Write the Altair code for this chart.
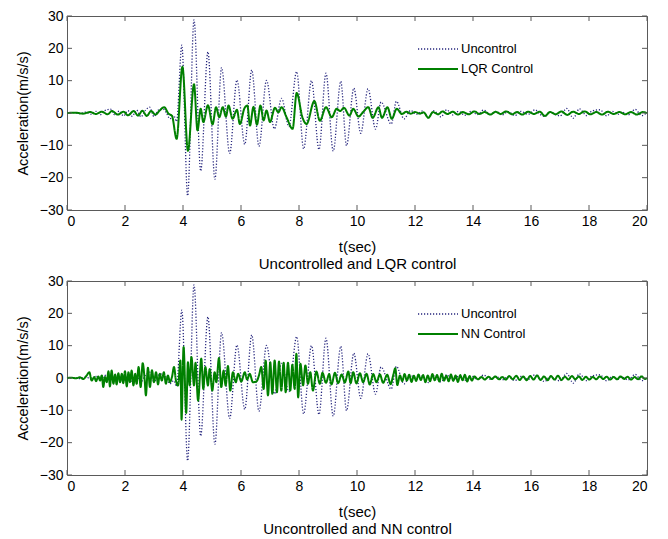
import altair as alt
import pandas as pd

# ---------------- data ----------------
UNC_T = [0.0, 0.25, 0.45, 0.65, 0.85, 1.0, 1.15, 1.3, 1.5, 1.65, 1.8, 1.95, 2.1, 2.25, 2.4, 2.55, 2.7, 2.85,
         3.0, 3.15, 3.3, 3.42, 3.55, 3.68, 3.78, 3.96, 4.16, 4.38, 4.61, 4.86, 5.1, 5.33, 5.61, 5.86, 6.13,
         6.37, 6.62, 6.88, 7.15, 7.4, 7.65, 7.92, 8.16, 8.43, 8.69, 8.93, 9.18, 9.44, 9.64, 9.89, 10.13,
         10.38, 10.64, 10.83, 11.18, 11.36, 11.62, 11.85, 12.05, 12.25, 12.46, 12.65, 12.9, 13.09, 13.3,
         13.5, 13.72, 13.95, 14.15, 14.36, 14.6, 14.8, 15.0, 15.22, 15.45, 15.65, 15.9, 16.14, 16.3, 16.48,
         16.65, 16.85, 17.0, 17.23, 17.46, 17.67, 17.92, 18.1, 18.38, 18.61, 18.8, 19.0, 19.13, 19.35,
         19.59, 19.82, 20.0]
UNC_A = [0.0, 0.1, -0.2, 0.3, -0.4, 0.5, -0.5, 0.7, 1.2, -0.6, 0.6, -0.9, 0.7, -1.0, 0.9, -1.2, 0.8, 1.8,
         -1.1, 0.9, 1.3, 0.2, -1.8, -0.8, -2.6, 21.0, -25.6, 28.8, -17.9, 18.9, -20.5, 14.0, -12.5, 10.2, -9.7,
         13.3, -10.3, 10.1, -4.9, 4.5, -4.2, 12.8, -11.1, 10.0, -11.3, 12.3, -11.8, 9.8, -10.1, 7.7, -6.3,
         7.5, -5.0, 3.4, -3.4, 3.6, -1.8, 0.8, -0.4, 0.6, -1.4, 0.7, -1.2, 1.0, -0.6,
         0.5, -0.7, 0.6, -0.5, 0.9, -0.4, 0.5, -0.6, 0.4, -0.8, 0.5, -0.4, 1.0, -0.3, -1.1,
         0.4, -0.5, -0.9, 1.4, -1.6, 1.3, -0.8, 0.6, 1.0, -0.9, 0.5, -0.4, 0.3, -0.6,
         1.1, -0.8, 0.2]

LQR_T = [0.0, 0.3, 0.55, 0.8, 1.0, 1.2, 1.4, 1.55, 1.75, 1.95, 2.1, 2.3, 2.45, 2.6, 2.75, 2.9, 3.05, 3.2,
         3.35, 3.5, 3.62, 3.78, 3.98, 4.17, 4.38, 4.5, 4.61, 4.7, 4.86, 5.02, 5.14, 5.25, 5.37, 5.48, 5.57,
         5.71, 5.86, 5.96, 6.12, 6.22, 6.31, 6.43, 6.55, 6.67, 6.78, 6.88, 7.0, 7.17, 7.29, 7.4, 7.57, 7.78,
         7.92, 8.12, 8.26, 8.53, 8.72, 8.93, 9.13, 9.3, 9.42, 9.55, 9.74, 9.87, 10.05, 10.22, 10.39, 10.54,
         10.74, 10.86, 11.05, 11.2, 11.37, 11.55, 11.7, 11.85, 12.0, 12.17, 12.3, 12.46, 12.62, 12.8, 12.95,
         13.12, 13.3, 13.48, 13.65, 13.85, 14.05, 14.22, 14.4, 14.6, 14.78, 14.95, 15.15, 15.35, 15.52,
         15.7, 15.9, 16.1, 16.3, 16.48, 16.66, 16.85, 17.05, 17.25, 17.45, 17.65, 17.85, 18.05, 18.25,
         18.45, 18.65, 18.85, 19.05, 19.25, 19.45, 19.65, 19.85, 20.0]
LQR_A = [0.0, 0.1, -0.2, 0.3, -0.3, 0.4, -0.4, 0.6, -0.5, 0.4, -0.7, 0.6, -0.8, 0.7, -0.9, 0.6, -0.5, 0.8,
         1.8, -0.2, -0.9, -8.0, 14.3, -11.7, 8.9, -5.4, 1.3, -2.8, 2.4, -3.5, 1.8, -1.3, 1.8, -1.1, 2.3,
         -1.8, 1.0, -3.4, 1.5, 2.3, -3.9, 1.9, -3.6, 2.3, -2.3, 0.8, -2.8, 1.6, 0.2, 1.8, -1.3, -4.9,
         6.2, -1.4, -3.4, 3.7, -2.4, 1.8, -1.3, 1.3, 0.6, 1.6, -0.8, 1.3, -1.1, 0.4, 1.8, -1.5,
         1.8, -1.5, 1.8, -1.8, 1.3, -0.3, 0.4, -0.2, 0.3, -0.2, 0.2, -1.5, 0.3, -0.4, 0.5,
         -0.3, 0.4, -0.5, 0.3, -0.4, 0.5, -0.3, 0.3, -0.5, 0.4, -0.3, 0.5, -0.4, 0.3,
         -0.5, 0.4, -0.3, 0.4, -0.9, 0.3, -0.4, 0.5, -0.6, 0.4, -0.3, 0.5, -0.4, 0.3,
         -0.5, 0.4, -0.3, 0.3, -0.4, 0.3, -0.5, 0.3, 0.0]

NN_T = [0.0, 0.15, 0.3, 0.45, 0.56, 0.68, 0.77, 0.85, 0.94, 1.0, 1.08, 1.14, 1.2, 1.25, 1.31, 1.37, 1.43,
        1.48, 1.54, 1.6, 1.66, 1.71, 1.77, 1.83, 1.89, 1.94, 2.0, 2.06, 2.12, 2.17, 2.23, 2.29, 2.35, 2.4,
        2.47, 2.54, 2.61, 2.68, 2.72, 2.79, 2.86, 2.93, 3.0, 3.07, 3.14, 3.2, 3.27, 3.34, 3.41, 3.48, 3.55,
        3.62, 3.69, 3.76, 3.83, 3.91, 3.95, 4.02, 4.11, 4.17, 4.23, 4.29, 4.38, 4.43, 4.52, 4.63, 4.7,
        4.77, 4.86, 4.92, 5.01, 5.09, 5.15, 5.24, 5.32, 5.4, 5.47, 5.55, 5.63, 5.72, 5.82, 5.9, 6.01, 6.13,
        6.21, 6.3, 6.41, 6.53, 6.62, 6.7, 6.78, 6.85, 6.93, 7.01, 7.08, 7.16, 7.24, 7.31, 7.39, 7.47, 7.54,
        7.62, 7.7, 7.77, 7.85, 7.91, 7.97, 8.05, 8.14, 8.22, 8.31, 8.39, 8.48, 8.6, 8.72, 8.81, 8.93,
        9.04, 9.12, 9.24, 9.35, 9.47, 9.58, 9.7, 9.78, 9.87, 9.98, 10.1, 10.21, 10.33, 10.44, 10.56, 10.67,
        10.79, 10.9, 11.04, 11.16, 11.25, 11.32, 11.39, 11.48, 11.56, 11.64, 11.72, 11.8, 11.88, 11.96,
        12.04, 12.12, 12.2, 12.28, 12.36, 12.44, 12.52, 12.6, 12.68, 12.76, 12.84, 12.92, 13.0, 13.08,
        13.16, 13.24, 13.32, 13.4, 13.48, 13.56, 13.64, 13.72, 13.8, 13.88, 13.96, 14.05, 14.17, 14.29,
        14.41, 14.53, 14.65, 14.77, 14.89, 15.01, 15.13, 15.25, 15.37, 15.49, 15.61, 15.73, 15.85, 15.97,
        16.09, 16.21, 16.33, 16.45, 16.57, 16.69, 16.81, 16.93, 17.05, 17.17, 17.29, 17.41, 17.53, 17.65,
        17.77, 17.89, 18.01, 18.13, 18.25, 18.37, 18.49, 18.61, 18.73, 18.85, 18.97, 19.09, 19.21, 19.33,
        19.45, 19.57, 19.69, 19.81, 19.93, 20.0]
NN_A = [0.0, 0.1, -0.1, 0.2, -0.3, 0.8, 1.8, -0.8, 0.3, -1.0, 0.5, -0.8, 0.8, -2.8, 0.3, -1.3, 2.1,
        -2.6, 2.3, -1.8, 1.1, -2.0, 1.5, -1.3, 1.3, -1.6, 2.1, -2.6, 1.8, -1.3, 2.3, -2.3, 1.3, -1.8,
        3.4, -2.8, 4.6, -0.8, -5.4, 3.2, -2.8, 2.4, -1.3, 1.8, -2.0, 1.3, -0.8, 1.8, -1.8, 0.8, -1.3,
        0.3, 3.4, -1.0, -2.3, 5.4, -12.9, 9.6, -10.8, 4.9, -2.3, 6.5, -2.3, 4.7, -7.0, 6.0, -3.4,
        3.4, -2.3, 2.8, -3.9, 1.8, -1.3, 6.2, -2.8, 2.3, -2.3, 3.7, -3.9, 1.8, -1.3, 1.3, -1.1, 1.8,
        -0.5, 1.3, -1.3, -1.1, 0.8, 3.4, -3.4, 5.4, -5.4, 4.9, -4.9, 5.4, -4.4, 5.1, -3.9, 4.7, -4.4,
        4.7, -3.9, 4.1, -3.4, 7.5, -6.0, 4.4, -2.3, 3.9, -1.8, 1.8, -3.9, 2.0, -1.8, 1.6, -1.5,
        1.2, -2.0, 1.6, -1.6, 1.1, -1.4, 2.0, -1.6, 1.8, -1.7, 1.5, -1.3, 1.3, -2.0, 1.2, -1.3,
        1.1, -1.5, 1.0, -1.9, 0.9, 3.0, -2.2, 0.8, -1.0, 1.2, -0.8, 1.0, -1.2, 0.7,
        -0.9, 1.1, -0.6, 0.9, -1.3, 0.8, -1.0, 1.2, -0.7, 0.9, -1.1, 1.3, -0.8, 0.7,
        -1.0, 1.1, -0.9, 0.8, -1.2, 0.9, -0.7, 1.0, -1.1, 0.6, -0.8, 0.5, -0.4, 0.3,
        -0.5, 0.4, -0.3, 0.5, -0.4, 0.3, -0.5, 0.6, -0.4, 0.7, -0.6, 0.5, -0.7, 0.6,
        -0.5, 0.8, -0.6, 0.5, -0.7, 0.6, -0.5, 0.7, -0.6, 0.4, -0.5, 0.6, -0.4, 0.5,
        -0.6, 0.4, -0.5, 0.3, -0.4, 0.5, -0.3, 0.4, -0.5, 0.3, -0.4, 0.5, -0.3, 0.4,
        -0.5, 0.3, -0.4, 0.5, -0.3, 0.0]

X_TICKS = [0, 2, 4, 6, 8, 10, 12, 14, 16, 18, 20]
Y_TICKS = [-30, -20, -10, 0, 10, 20, 30]

# ---------------- style ----------------
W, H = 580, 194
FONT = "Liberation Sans"
FRAME = "#5a5a5a"
UNC_COLOR = "#26267e"
CTRL_COLOR = "#008000"
TICK_LEN = 5


def panel(ctrl_t, ctrl_a, ctrl_name, subtitle):
    domain = ["Uncontrol", ctrl_name]
    unc = pd.DataFrame({"t": UNC_T, "a": UNC_A, "series": "Uncontrol"})
    ctl = pd.DataFrame({"t": ctrl_t, "a": ctrl_a, "series": ctrl_name})
    xt = pd.DataFrame({"t": X_TICKS})
    yt = pd.DataFrame({"a": Y_TICKS})

    x_enc = alt.X("t:Q", scale=alt.Scale(domain=[0, 20], nice=False, zero=False),
                  axis=alt.Axis(values=X_TICKS, format="d", title=["t(sec)", subtitle],
                                ticks=False, domain=False, grid=False, labelOverlap=False,
                                labelPadding=4, titlePadding=11, titleLineHeight=17,
                                titleFontSize=15))
    y_enc = alt.Y("a:Q", scale=alt.Scale(domain=[-30, 30], nice=False, zero=False),
                  axis=alt.Axis(values=Y_TICKS, format="d", title="Acceleration(m/s/s)",
                                ticks=False, domain=False, grid=False, labelOverlap=False,
                                labelFlush=False, labelPadding=4, titlePadding=9,
                                titleFontSize=14.5))
    leg = alt.Legend(title=None, orient="none", legendX=360, legendY=22,
                     symbolType="M-2,0H2", symbolSize=400, labelFontSize=13,
                     labelFont=FONT, labelOffset=12, rowPadding=2, padding=0)
    color = alt.Color("series:N", scale=alt.Scale(domain=domain, range=[UNC_COLOR, CTRL_COLOR]), legend=leg)
    dash = alt.StrokeDash("series:N", scale=alt.Scale(domain=domain, range=[[1.2, 1.8], [1, 0]]), legend=leg)
    sw = alt.StrokeWidth("series:N", scale=alt.Scale(domain=domain, range=[1.3, 2.0]), legend=leg)

    unc_line = alt.Chart(unc).mark_line(interpolate="monotone").encode(
        x=x_enc, y=y_enc, color=color, strokeDash=dash, strokeWidth=sw)
    ctl_line = alt.Chart(ctl).mark_line(interpolate="monotone").encode(
        x=x_enc, y=y_enc, color=color, strokeDash=dash, strokeWidth=sw)

    top_ticks = alt.Chart(xt).mark_rule(color=FRAME, strokeWidth=1).encode(
        x=x_enc, y=alt.value(0), y2=alt.value(TICK_LEN))
    bot_ticks = alt.Chart(xt).mark_rule(color=FRAME, strokeWidth=1).encode(
        x=x_enc, y=alt.value(H - TICK_LEN), y2=alt.value(H))
    left_ticks = alt.Chart(yt).mark_rule(color=FRAME, strokeWidth=1).encode(
        y=y_enc, x=alt.value(0), x2=alt.value(TICK_LEN))
    right_ticks = alt.Chart(yt).mark_rule(color=FRAME, strokeWidth=1).encode(
        y=y_enc, x=alt.value(W - TICK_LEN), x2=alt.value(W))

    return alt.layer(unc_line, ctl_line, top_ticks, bot_ticks, left_ticks, right_ticks).properties(
        width=W, height=H)


top = panel(LQR_T, LQR_A, "LQR Control", "Uncontrolled and LQR control")
bottom = panel(NN_T, NN_A, "NN Control", "Uncontrolled and NN control")

chart = alt.vconcat(top, bottom, spacing=1).resolve_scale(
    color="independent", strokeDash="independent", strokeWidth="independent"
).properties(
    padding={"left": 14, "top": 8, "right": 5, "bottom": 1},
    background="white"
).configure_view(
    stroke=FRAME, strokeWidth=1
).configure_axis(
    labelFont=FONT, titleFont=FONT, labelFontSize=14, titleFontSize=14,
    labelColor="#000000", titleColor="#000000", titleFontWeight="normal"
)

chart.save("out.html", embed_options={"renderer": "svg", "actions": False})
